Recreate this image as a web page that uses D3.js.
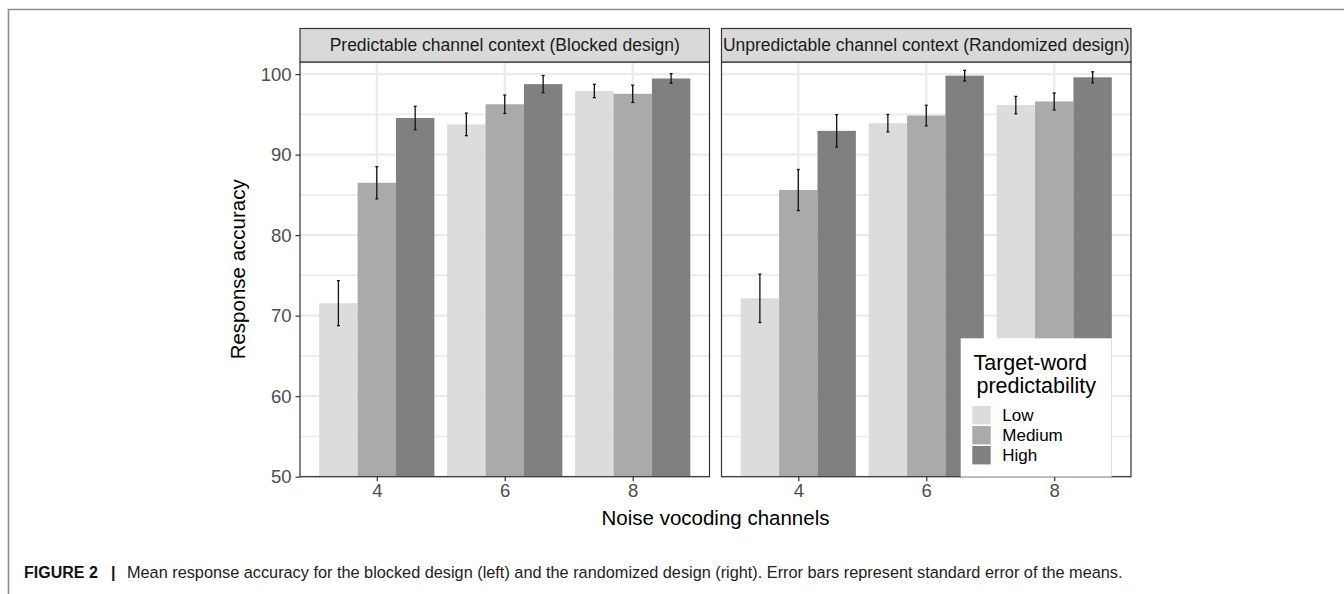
<!DOCTYPE html>
<html>
<head>
<meta charset="utf-8">
<script src="https://cdn.jsdelivr.net/npm/d3@7"></script>
<style>
    body { margin: 0; background: #fff; }
    svg { display: block; font-family: "Liberation Sans", Arial, sans-serif; }
</style>
</head>
<body>
<div id="chart"></div>
<script>
//Categories and tick labels
var channels = ["4", "6", "8"];
var levels = ["Low", "Medium", "High"];
var yTicks = [50, 60, 70, 80, 90, 100];
var yMinor = [55, 65, 75, 85, 95];
var panelTitles = ["Predictable channel context (Blocked design)", "Unpredictable channel context (Randomized design)"];

//Blocked design means and standard errors (per channel 4, 6, 8)
var blockedLow = [71.55, 93.75, 97.9];
var blockedMedium = [86.5, 96.25, 97.55];
var blockedHigh = [94.55, 98.75, 99.45];
var blockedLowSE = [2.8, 1.4, 0.83];
var blockedMediumSE = [2.0, 1.15, 1.07];
var blockedHighSE = [1.45, 1.07, 0.6];

//Randomized design means and standard errors
var randomLow = [72.15, 93.9, 96.15];
var randomMedium = [85.6, 94.85, 96.6];
var randomHigh = [92.95, 99.8, 99.6];
var randomLowSE = [3.0, 1.08, 1.08];
var randomMediumSE = [2.55, 1.28, 1.05];
var randomHighSE = [2.0, 0.66, 0.68];

var fills = {"Low": "#dcdcdc", "Medium": "#aaaaaa", "High": "#808080"};

function buildRows(low, med, high, lowSE, medSE, highSE) {
    "use strict";
    var rows = [];
    var means = [low, med, high];
    var ses = [lowSE, medSE, highSE];
    channels.forEach(function (c, i) {
        levels.forEach(function (l, j) {
            rows.push({channel: c, level: l, mean: means[j][i], se: ses[j][i]});
        });
    });
    return rows;
}

var panels = [
    {title: panelTitles[0], left: 300, rows: buildRows(blockedLow, blockedMedium, blockedHigh, blockedLowSE, blockedMediumSE, blockedHighSE)},
    {title: panelTitles[1], left: 721.5, rows: buildRows(randomLow, randomMedium, randomHigh, randomLowSE, randomMediumSE, randomHighSE)}
];

var W = 1344, H = 594;
var panelW = 409.5, panelTop = 62, panelBottom = 476.7, stripTop = 28.5;

var svg = d3.select("#chart")
    .append("svg")
    .attr("width", W)
    .attr("height", H);

//Outer frame of the figure
svg.append("path")
    .attr("d", "M8.5," + H + "V9.5H" + W)
    .attr("fill", "none")
    .attr("stroke", "#8c8c8c")
    .attr("stroke-width", 1.6);

//Shared y scale
var y = d3.scaleLinear().domain([50, 101.5]).range([panelBottom, panelTop]);

panels.forEach(function (p, pi) {
    var g = svg.append("g").attr("transform", "translate(" + p.left + ",0)");

    //Discrete x scale with ggplot style expansion (0.6 on each side)
    var x = d3.scalePoint().domain(channels).range([panelW * 0.6 / 3.2, panelW * 2.6 / 3.2]);
    var inner = d3.scaleBand().domain(levels).range([-panelW * 0.45 / 3.2, panelW * 0.45 / 3.2]);

    //Grid lines
    g.selectAll(".minor").data(yMinor).enter().append("line")
        .attr("x1", 0).attr("x2", panelW)
        .attr("y1", function (d) { return y(d); })
        .attr("y2", function (d) { return y(d); })
        .attr("stroke", "#ebebeb").attr("stroke-width", 1.6);
    g.selectAll(".major").data(yTicks).enter().append("line")
        .attr("x1", 0).attr("x2", panelW)
        .attr("y1", function (d) { return y(d); })
        .attr("y2", function (d) { return y(d); })
        .attr("stroke", "#ebebeb").attr("stroke-width", 2.2);
    g.selectAll(".vmajor").data(channels).enter().append("line")
        .attr("x1", function (d) { return x(d); })
        .attr("x2", function (d) { return x(d); })
        .attr("y1", panelTop).attr("y2", panelBottom)
        .attr("stroke", "#ebebeb").attr("stroke-width", 2.2);

    //Bars
    g.selectAll(".bar").data(p.rows).enter().append("rect")
        .attr("x", function (d) { return x(d.channel) + inner(d.level); })
        .attr("width", inner.bandwidth())
        .attr("y", function (d) { return y(d.mean); })
        .attr("height", function (d) { return y(50) - y(d.mean); })
        .attr("fill", function (d) { return fills[d.level]; });

    //Error bars
    var eb = g.selectAll(".err").data(p.rows).enter().append("g")
        .attr("stroke", "#111").attr("stroke-width", 1.3);
    eb.append("line")
        .attr("x1", function (d) { return x(d.channel) + inner(d.level) + inner.bandwidth() / 2; })
        .attr("x2", function (d) { return x(d.channel) + inner(d.level) + inner.bandwidth() / 2; })
        .attr("y1", function (d) { return y(d.mean + d.se); })
        .attr("y2", function (d) { return y(d.mean - d.se); });
    [1, -1].forEach(function (s) {
        eb.append("line")
            .attr("x1", function (d) { return x(d.channel) + inner(d.level) + inner.bandwidth() / 2 - 1.5; })
            .attr("x2", function (d) { return x(d.channel) + inner(d.level) + inner.bandwidth() / 2 + 1.5; })
            .attr("y1", function (d) { return y(d.mean + s * d.se); })
            .attr("y2", function (d) { return y(d.mean + s * d.se); });
    });

    //Legend sits inside the right panel
    if (pi === 1) {
        var lg = svg.append("g");
        lg.append("rect")
            .attr("x", 960.7).attr("y", 338.3)
            .attr("width", 151).attr("height", panelBottom - 338.3)
            .attr("fill", "#fff");
        lg.append("text").attr("x", 973.5).attr("y", 369.5)
            .attr("font-size", "21.5px").attr("fill", "#000").text("Target-word");
        lg.append("text").attr("x", 976.5).attr("y", 392.5)
            .attr("font-size", "21.5px").attr("fill", "#000").text("predictability");
        levels.forEach(function (l, i) {
            lg.append("rect")
                .attr("x", 972.3).attr("y", 406 + i * 20)
                .attr("width", 18.4).attr("height", 18.4)
                .attr("fill", fills[l]);
            lg.append("text")
                .attr("x", 1002.3).attr("y", 421 + i * 20)
                .attr("font-size", "17px").attr("fill", "#000").text(l);
        });
    }

    //Panel border
    g.append("rect")
        .attr("x", 0).attr("y", panelTop)
        .attr("width", panelW).attr("height", panelBottom - panelTop)
        .attr("fill", "none").attr("stroke", "#333").attr("stroke-width", 1.2);

    //Strip
    g.append("rect")
        .attr("x", 0).attr("y", stripTop)
        .attr("width", panelW).attr("height", panelTop - stripTop)
        .attr("fill", "#d9d9d9").attr("stroke", "#333").attr("stroke-width", 1.2);
    g.append("text")
        .attr("x", panelW / 2).attr("y", (stripTop + panelTop) / 2 + 6)
        .attr("text-anchor", "middle")
        .attr("font-size", "17.5px").attr("fill", "#1a1a1a")
        .text(p.title);

    //x axis ticks and labels
    var xAxis = d3.axisBottom(x).tickSize(4.5).tickPadding(3);
    var ax = g.append("g").attr("transform", "translate(0," + panelBottom + ")").call(xAxis);
    ax.select(".domain").remove();
    ax.selectAll("line").attr("stroke", "#333").attr("stroke-width", 1.2);
    ax.selectAll("text").attr("font-size", "18.5px").attr("fill", "#4d4d4d")
        .attr("font-family", "Liberation Sans, Arial, sans-serif");

    //y axis on the left panel only
    if (pi === 0) {
        var yAxis = d3.axisLeft(y).tickValues(yTicks).tickSize(4.5).tickPadding(4);
        var ay = g.append("g").call(yAxis);
        ay.select(".domain").remove();
        ay.selectAll("line").attr("stroke", "#333").attr("stroke-width", 1.2);
        ay.selectAll("text").attr("font-size", "18.5px").attr("fill", "#4d4d4d")
            .attr("font-family", "Liberation Sans, Arial, sans-serif");
    }
});

//Axis titles
svg.append("text")
    .attr("x", (300 + 721.5 + panelW) / 2).attr("y", 525)
    .attr("text-anchor", "middle")
    .attr("font-size", "20.5px").attr("fill", "#000")
    .text("Noise vocoding channels");
svg.append("text")
    .attr("transform", "translate(245," + (panelTop + panelBottom) / 2 + ") rotate(-90)")
    .attr("text-anchor", "middle")
    .attr("font-size", "20.5px").attr("fill", "#000")
    .text("Response accuracy");

//Caption
svg.append("text")
    .attr("x", 24).attr("y", 578)
    .attr("font-size", "16px").attr("font-weight", "bold").attr("fill", "#111")
    .text("FIGURE 2");
svg.append("text")
    .attr("x", 111).attr("y", 578)
    .attr("font-size", "16px").attr("font-weight", "bold").attr("fill", "#111")
    .text("|");
svg.append("text")
    .attr("x", 127).attr("y", 578)
    .attr("font-size", "16.3px").attr("fill", "#222")
    .text("Mean response accuracy for the blocked design (left) and the randomized design (right). Error bars represent standard error of the means.");
</script>
</body>
</html>
